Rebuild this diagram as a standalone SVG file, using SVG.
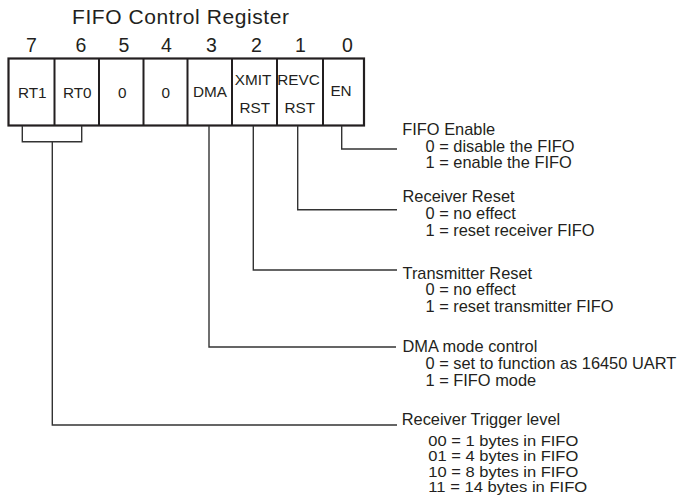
<svg xmlns="http://www.w3.org/2000/svg" width="693" height="499" viewBox="0 0 693 499">
<style>
text{font-family:"Liberation Sans",Arial,sans-serif;fill:#231f20}
.title{font-size:21px}
.bit{font-size:19.5px;text-anchor:middle}
.cell{font-size:15.3px;text-anchor:middle}
.desc{font-size:16.4px}
.list{font-size:14.6px}
.box{fill:#fff;stroke:#231f20;stroke-width:2.2}
.div{stroke:#231f20;stroke-width:2}
.conn{fill:none;stroke:#333;stroke-width:1.4}
</style>
<rect width="693" height="499" fill="#fff"/>
<g id="register">
<text class="title" x="72" y="24" textLength="217" lengthAdjust="spacing">FIFO Control Register</text>
<text class="bit" x="31.5" y="51.5">7</text>
<text class="bit" x="81" y="51.5">6</text>
<text class="bit" x="124" y="51.5">5</text>
<text class="bit" x="166.5" y="51.5">4</text>
<text class="bit" x="211.5" y="51.5">3</text>
<text class="bit" x="256.5" y="51.5">2</text>
<text class="bit" x="300.5" y="51.5">1</text>
<text class="bit" x="347.5" y="51.5">0</text>
<rect class="box" x="8.5" y="58.5" width="355.5" height="67"/>
<path class="div" d="M54.5,58.5V125.5M99,58.5V125.5M143.5,58.5V125.5M187.5,58.5V125.5M232,58.5V125.5M277,58.5V125.5M323,58.5V125.5"/>
<text class="cell" x="32.2" y="97.5">RT1</text>
<text class="cell" x="77.2" y="97.5">RT0</text>
<text class="cell" x="122.3" y="97.5">0</text>
<text class="cell" x="165.7" y="97.5">0</text>
<text class="cell" x="210" y="96.5">DMA</text>
<text class="cell" x="253" y="85">XMIT</text>
<text class="cell" x="254.7" y="113">RST</text>
<text class="cell" x="298.5" y="85">REVC</text>
<text class="cell" x="299.7" y="113">RST</text>
<text class="cell" x="341" y="96">EN</text>
</g>
<g id="connectors">
<path class="conn" d="M22.3,126V141.7H81.7V126M52.3,141.7V425H397"/>
<path class="conn" d="M209,126V347H396"/>
<path class="conn" d="M253.3,126V270H397"/>
<path class="conn" d="M297.7,126V209.7H397"/>
<path class="conn" d="M341.7,126V149H397"/>
</g>
<g id="fifo-enable">
<text class="desc" x="402.3" y="135">FIFO Enable</text>
<text class="desc" x="425.5" y="151.7">0 = disable the FIFO</text>
<text class="desc" x="425.5" y="168.3">1 = enable the FIFO</text>
</g>
<g id="receiver-reset">
<text class="desc" x="402.5" y="201.7">Receiver Reset</text>
<text class="desc" x="425.5" y="218.7">0 = no effect</text>
<text class="desc" x="425.5" y="235.5">1 = reset receiver FIFO</text>
</g>
<g id="transmitter-reset">
<text class="desc" x="402.5" y="279">Transmitter Reset</text>
<text class="desc" x="425.5" y="295.3">0 = no effect</text>
<text class="desc" x="425.5" y="312">1 = reset transmitter FIFO</text>
</g>
<g id="dma-mode">
<text class="desc" x="402.5" y="352.3">DMA mode control</text>
<text class="desc" x="425.5" y="369">0 = set to function as 16450 UART</text>
<text class="desc" x="425.5" y="385.5">1 = FIFO mode</text>
</g>
<g id="trigger-level">
<text class="desc" x="401.7" y="425.3">Receiver Trigger level</text>
<text class="list" x="428.3" y="445.5" textLength="150" lengthAdjust="spacingAndGlyphs">00 = 1 bytes in FIFO</text>
<text class="list" x="428.3" y="461" textLength="150" lengthAdjust="spacingAndGlyphs">01 = 4 bytes in FIFO</text>
<text class="list" x="428.3" y="476.7" textLength="150" lengthAdjust="spacingAndGlyphs">10 = 8 bytes in FIFO</text>
<text class="list" x="428.3" y="492.3" textLength="159" lengthAdjust="spacingAndGlyphs">11 = 14 bytes in FIFO</text>
</g>
</svg>
